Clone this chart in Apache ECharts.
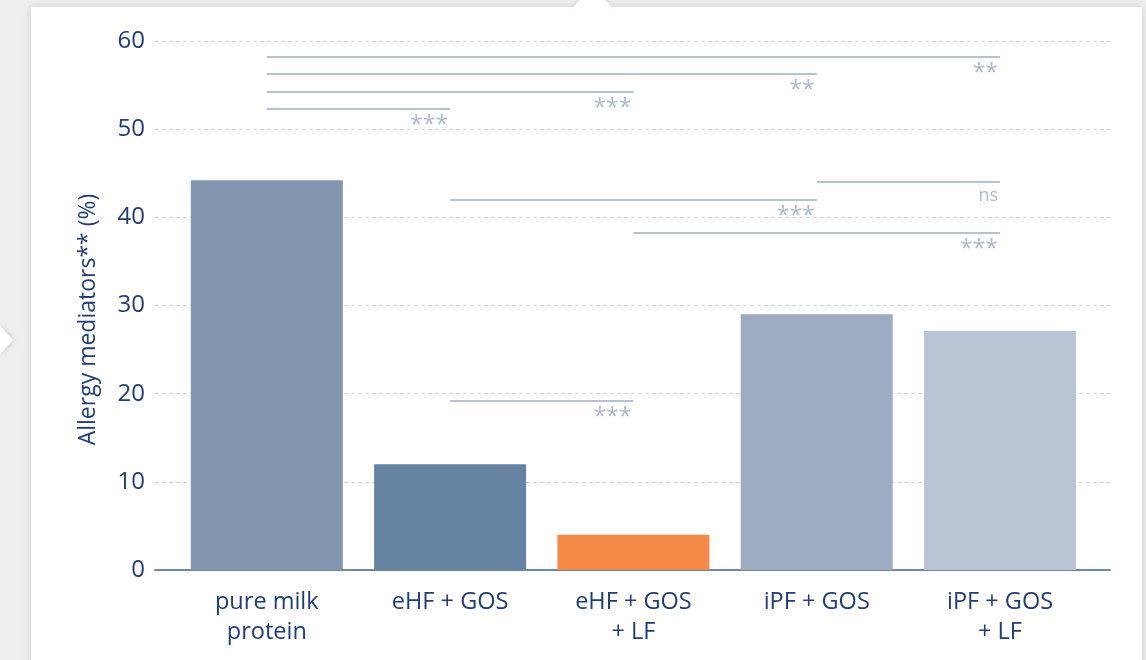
<!DOCTYPE html>
<html>
<head>
<meta charset="utf-8">
<script src="https://cdn.jsdelivr.net/npm/echarts@6/dist/echarts.min.js"></script>
<style>
  html, body { margin: 0; padding: 0; background: #efefef; }
  #chart { width: 1146px; height: 660px; }
</style>
</head>
<body>
<div id="chart"></div>
<script>
// categories and values
var categories = ['pure milk\nprotein', 'eHF + GOS', 'eHF + GOS\n+ LF', 'iPF + GOS', 'iPF + GOS\n+ LF']
var values = [44.2, 12.0, 4.0, 29.0, 27.1]
var barColors = ['#8396b0', '#6683a3', '#f58a46', '#9eacc2', '#bac4d5']
var yTicks = [0, 10, 20, 30, 40, 50, 60]

// significance brackets: from category, to category, height, label
var sigFrom = [0, 0, 0, 0, 3, 1, 2, 1]
var sigTo = [4, 3, 2, 1, 4, 3, 4, 2]
var sigLevel = [58.2, 56.25, 54.2, 52.3, 44.0, 42.0, 38.2, 19.2]
var sigLabel = ['**', '**', '***', '***', 'ns', '***', '***', '***']

var navy = '#1e3d7d'
var chart = echarts.init(document.getElementById('chart'))

var sigLines = sigFrom.map(function (f, i) {
  var start = { name: sigLabel[i], coord: [f, sigLevel[i]] }
  if (sigLabel[i] === 'ns') {
    // ns is set smaller than the stars
    start.label = { fontSize: 18, distance: 5 }
  }
  return [start, { coord: [sigTo[i], sigLevel[i]] }]
})

chart.setOption({
  animation: false,
  textStyle: { fontFamily: 'Open Sans' },
  graphic: [
    {
      type: 'polygon',
      shape: { points: [[0, 326], [13, 340], [0, 354]] },
      style: { fill: '#ffffff', shadowBlur: 6, shadowColor: 'rgba(0,0,0,0.18)' },
      z: -3
    },
    {
      type: 'rect',
      shape: { x: 31, y: 7, width: 1111, height: 700 },
      style: { fill: '#ffffff', shadowBlur: 8, shadowColor: 'rgba(0,0,0,0.15)' },
      z: -2
    },
    {
      type: 'polygon',
      shape: { points: [[572, 8], [592, -12], [613, 8]] },
      style: { fill: '#ffffff', shadowBlur: 6, shadowColor: 'rgba(0,0,0,0.12)' },
      z: -2
    },
    {
      type: 'rect',
      shape: { x: 574, y: 6, width: 37, height: 6 },
      style: { fill: '#ffffff' },
      z: -1
    }
  ],
  grid: { left: 155, right: 36, top: 41, bottom: 90 },
  xAxis: {
    type: 'value',
    min: -0.61,
    max: 4.6,
    splitLine: { show: false },
    axisTick: { show: false },
    axisLine: { show: true, lineStyle: { color: '#6f88a8', width: 2 } },
    axisLabel: {
      customValues: [0, 1, 2, 3, 4],
      formatter: function (v) { return categories[Math.round(v)] },
      color: navy,
      fontSize: 23.5,
      lineHeight: 30,
      margin: 17
    }
  },
  yAxis: {
    type: 'value',
    min: 0,
    max: 60,
    interval: 10,
    name: 'Allergy mediators** (%)',
    nameLocation: 'middle',
    nameRotate: 90,
    nameGap: 55,
    nameTextStyle: { color: navy, fontSize: 23, padding: [0, 28, 0, 0] },
    axisLine: { show: false },
    axisTick: { show: false },
    axisLabel: { color: navy, fontSize: 24, margin: 10 },
    splitLine: { lineStyle: { color: '#ccd5e5', type: [4, 3], width: 1 } }
  },
  series: [{
    type: 'bar',
    barWidth: 152,
    data: values.map(function (v, i) {
      return { value: [i, v], itemStyle: { color: barColors[i] } }
    }),
    markLine: {
      silent: true,
      symbol: 'none',
      animation: false,
      lineStyle: { color: '#b6c1d4', width: 2, type: 'solid' },
      label: {
        show: true,
        position: 'insideEndBottom',
        formatter: '{b}',
        color: '#aeb9cd',
        fontSize: 23,
        distance: 5,
        offset: [3, 0]
      },
      emphasis: { disabled: true },
      data: sigLines
    }
  }]
})
</script>
</body>
</html>
